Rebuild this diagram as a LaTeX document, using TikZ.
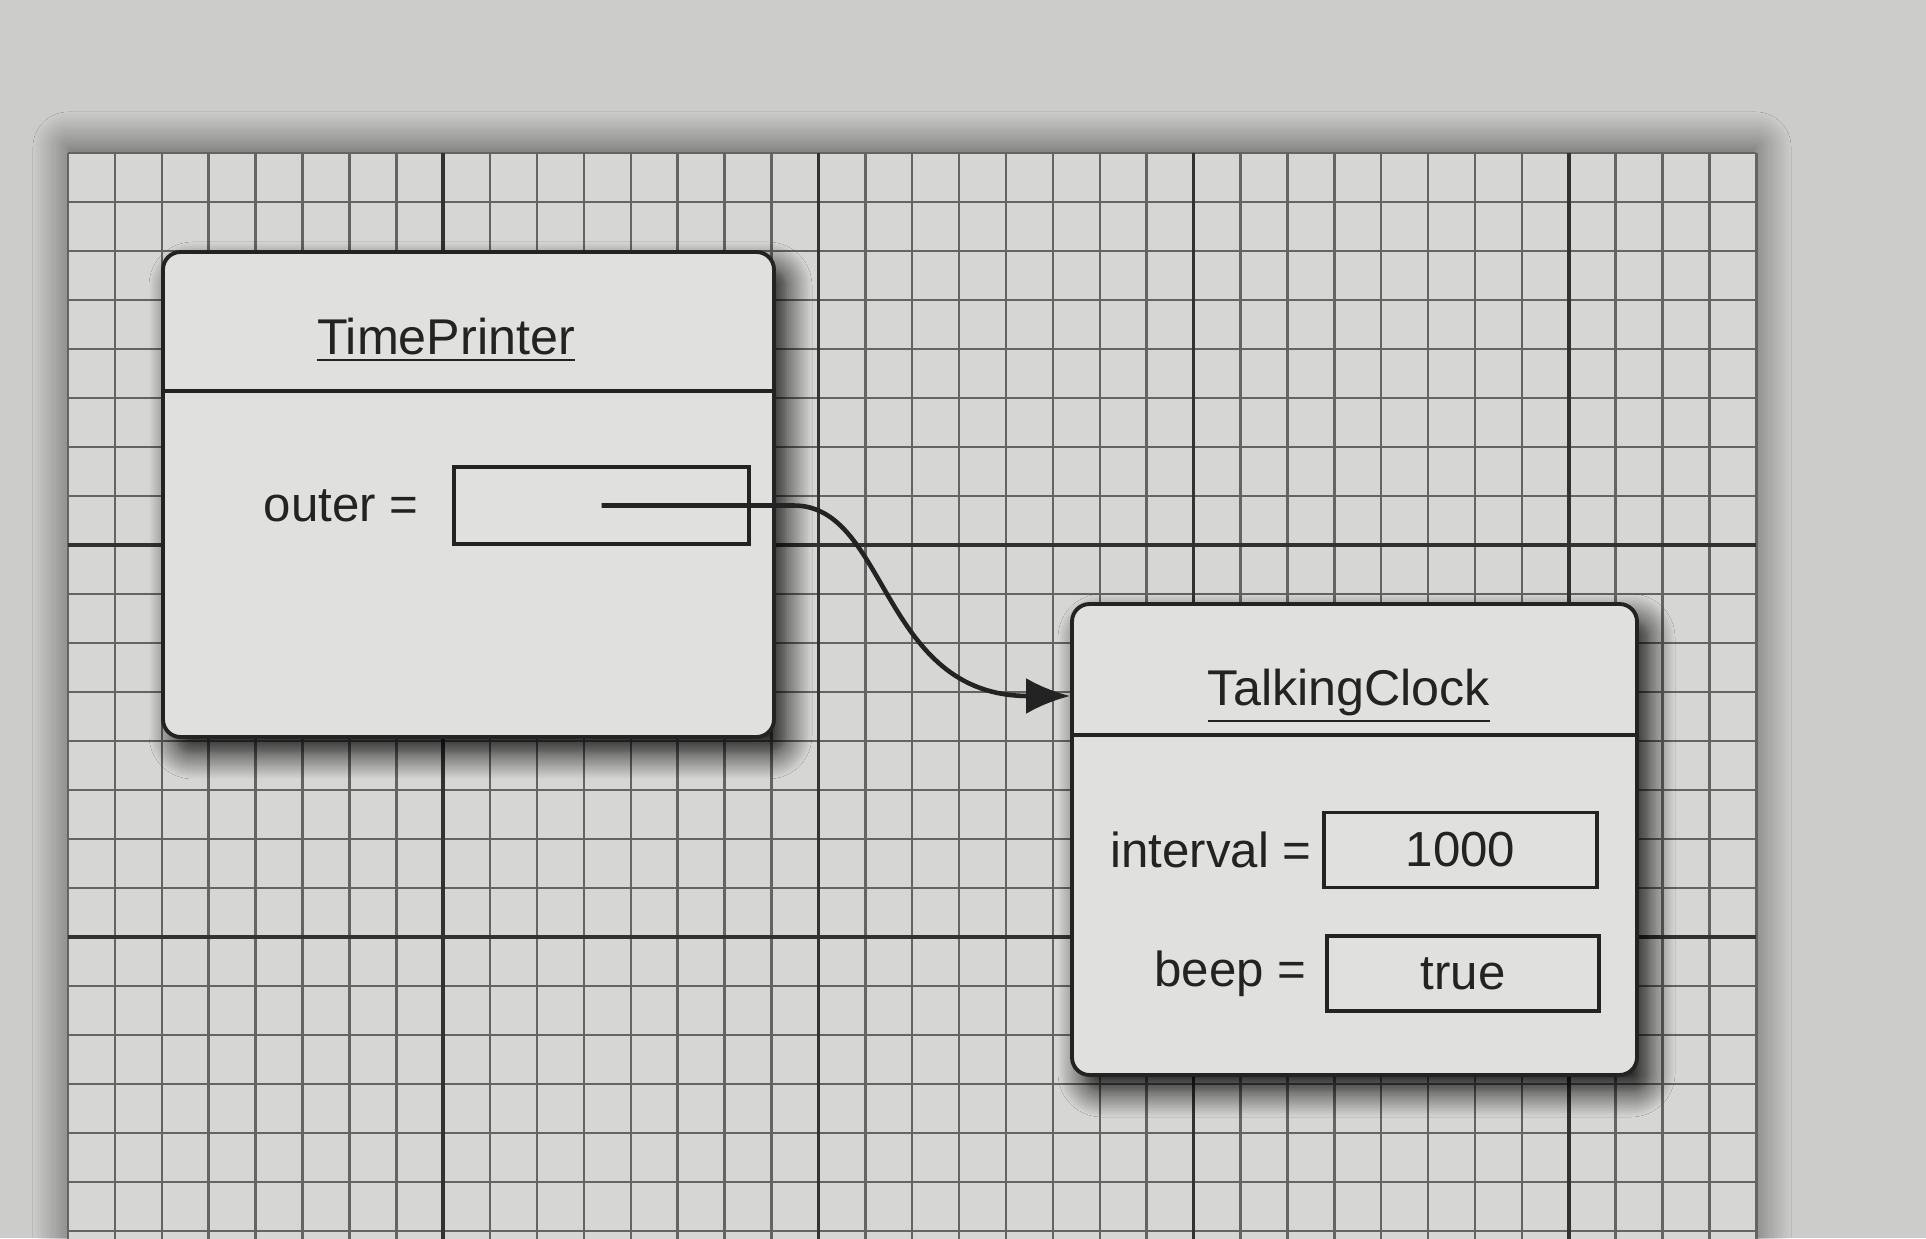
\documentclass[tikz,border=0pt]{standalone}
\usepackage{fontspec}
\setmainfont{Liberation Sans}
\usetikzlibrary{positioning,arrows.meta,shadows.blur}
\definecolor{pagegray}{RGB}{204,204,202}
\definecolor{papergray}{RGB}{214,214,212}
\definecolor{boxgray}{RGB}{224,224,222}
\definecolor{minorline}{RGB}{100,100,100}
\definecolor{majorline}{RGB}{50,50,50}
\definecolor{ink}{RGB}{35,35,35}
\tikzset{
  minorgrid/.style={minorline,line width=0.7pt},
  majorgrid/.style={majorline,line width=1pt},
  objbox/.style={draw=ink,line width=1.1pt,fill=boxgray,rounded corners=5pt,
    blur shadow={shadow xshift=1.2mm,shadow yshift=-1.6mm,shadow blur radius=2.6mm,
      shadow blur steps=14,shadow opacity=95}},
  valbox/.style={draw=ink,line width=1.1pt,minimum height=0.75cm,inner sep=0pt,
    font=\fontsize{14}{16}\selectfont,text=ink},
  objtitle/.style={font=\fontsize{14.3}{16}\selectfont,text=ink},
  fieldlabel/.style={font=\fontsize{14}{16}\selectfont,text=ink,inner sep=0pt},
  pointer/.style={ink,line width=1.3pt,-{Latex[length=4.4mm,width=3.6mm]}}
}
\begin{document}
\begin{tikzpicture}
\useasboundingbox (0,0) rectangle (19.26,12.38);
\clip (0,0) rectangle (19.26,12.38);
\fill[pagegray] (0,0) rectangle (19.26,12.38);
% grid sheet
\fill[papergray,blur shadow={shadow xshift=0mm,shadow yshift=0.6mm,shadow blur radius=3.5mm,
    shadow blur steps=16,shadow opacity=60}]
  (0.68,-0.5) rectangle (17.56,10.85);
\foreach \i in {0,...,36}{
  \pgfmathsetmacro{\gx}{0.68+0.469*\i}
  \draw[minorgrid] (\gx,10.85) -- (\gx,-0.5);
}
\foreach \j in {0,...,22}{
  \pgfmathsetmacro{\gy}{10.85-0.49*\j}
  \draw[minorgrid] (0.68,\gy) -- (17.56,\gy);
}
\foreach \i in {8,16,24,32}{
  \pgfmathsetmacro{\gx}{0.68+0.469*\i}
  \draw[majorgrid] (\gx,10.85) -- (\gx,-0.5);
}
\foreach \j in {8,16}{
  \pgfmathsetmacro{\gy}{10.85-0.49*\j}
  \draw[majorgrid] (0.68,\gy) -- (17.56,\gy);
}
% TimePrinter object
\node[objbox,minimum width=6.11cm,minimum height=4.85cm] (tp) at (4.685,7.435) {};
\draw[ink,line width=1.1pt] ([yshift=-1.41cm]tp.north west) -- ([yshift=-1.41cm]tp.north east);
\node[objtitle] (tptitle) at (4.46,8.98) {\underline{TimePrinter}};
\node[valbox,minimum width=2.95cm,minimum height=0.77cm] (outerval) at (6.015,7.325) {};
\node[fieldlabel,left=0.33cm of outerval] (outerlbl) {outer =};
% TalkingClock object
\node[objbox,minimum width=5.65cm,minimum height=4.71cm] (tc) at (13.545,3.985) {};
\draw[ink,line width=1.1pt] ([yshift=-1.33cm]tc.north west) -- ([yshift=-1.33cm]tc.north east);
\node[objtitle] (tctitle) at (13.49,5.42) {\underline{TalkingClock}};
\node[valbox,minimum width=2.73cm] (intval) at (14.605,3.88) {1000};
\node[fieldlabel,left=0.1cm of intval] (intlbl) {interval =};
\node[valbox,minimum width=2.72cm] (beepval) at (14.63,2.645) {true};
\node[fieldlabel,left=0.18cm of beepval] (beeplbl) {beep =};
% outer reference
\draw[pointer] (outerval.center) -- ++(1.92,0) .. controls +(0.95,0) and +(-1.9,0) .. (tc.west |- tctitle);
\end{tikzpicture}
\end{document}
